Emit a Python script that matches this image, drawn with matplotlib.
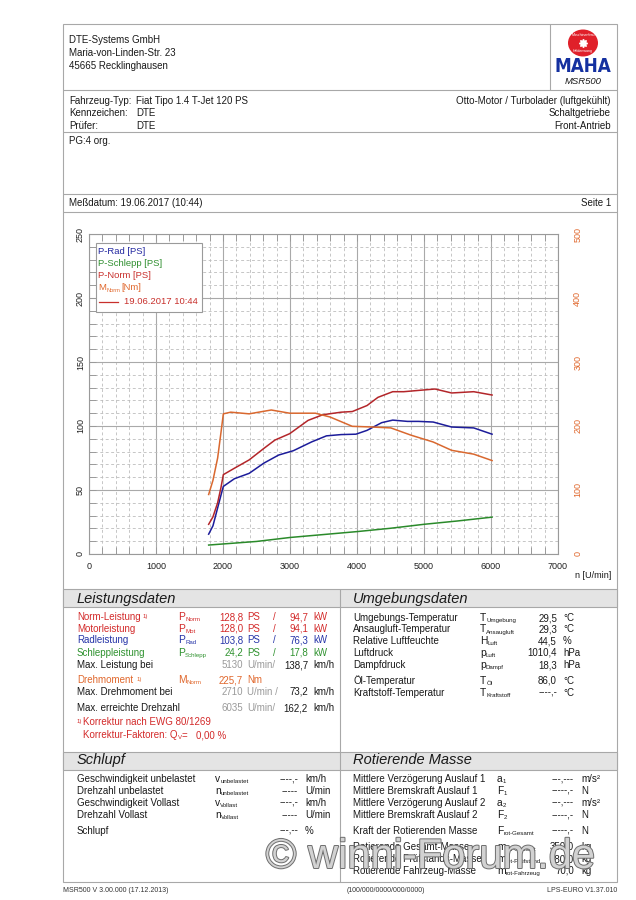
import matplotlib
matplotlib.use('Agg')
import matplotlib.pyplot as plt
import matplotlib.patches as mpatches
import matplotlib.patheffects as pe
from matplotlib.ticker import MultipleLocator

plt.rcParams['font.family'] = ['Liberation Sans', 'DejaVu Sans']

# ---------------- chart data ----------------
rpm_norm = [1786, 1850, 1920, 1970, 2005, 2170, 2390, 2610, 2775, 2995, 3270, 3490,
            3764, 3930, 4150, 4313, 4533, 4698, 4918, 5165, 5412, 5742, 6016]
p_norm = [23.2, 29.0, 40.0, 52.0, 62.0, 67.0, 73.5, 82.5, 89.0, 94.0, 104.4, 108.8,
          110.8, 111.3, 116.0, 122.4, 126.8, 126.8, 127.8, 128.9, 125.8, 126.8, 124.2]

rpm_rad = [1786, 1850, 1920, 1970, 2005, 2170, 2390, 2610, 2830, 3050, 3324, 3544,
           3764, 3984, 4150, 4368, 4533, 4753, 4918, 5137, 5412, 5742, 6016]
p_rad = [15.5, 22.0, 36.0, 46.0, 52.8, 58.8, 63.0, 71.0, 77.3, 80.7, 87.6, 92.3,
         93.3, 93.6, 96.6, 102.6, 104.6, 103.6, 103.6, 103.1, 99.2, 98.5, 93.6]

rpm_schlepp = [1786, 2500, 3000, 3500, 4000, 4500, 5000, 5500, 6016]
p_schlepp = [7.0, 9.8, 12.9, 15.2, 17.5, 20.1, 23.2, 25.8, 28.8]

rpm_torque = [1786, 1850, 1920, 1970, 2005, 2115, 2390, 2720, 2995, 3379, 3599,
              3929, 4203, 4505, 4808, 5137, 5412, 5742, 6016]
m_norm = [93, 115, 150, 190, 219, 221.6, 219, 225, 220, 220, 214,
          199.5, 198.5, 197, 185.6, 175, 162, 156, 146]

x_ticks = [0, 1000, 2000, 3000, 4000, 5000, 6000, 7000]
y_ticks_ps = [0, 50, 100, 150, 200, 250]
y_ticks_nm = [0, 100, 200, 300, 400, 500]

legend_labels = ["P-Rad [PS]", "P-Schlepp [PS]", "P-Norm [PS]"]
run_label = "19.06.2017 10:44"

# ---------------- page texts ----------------
address = ["DTE-Systems GmbH", "Maria-von-Linden-Str. 23", "45665 Recklinghausen"]
vehicle_left = [("Fahrzeug-Typ:", "Fiat Tipo 1.4 T-Jet 120 PS"),
                ("Kennzeichen:", "DTE"), ("Prüfer:", "DTE")]
vehicle_right = ["Otto-Motor / Turbolader (luftgekühlt)", "Schaltgetriebe", "Front-Antrieb"]

RED = '#d32a2a'
BLUE = '#2534a8'
GREEN = '#2f922f'
ORANGE = '#e0672c'
GRAY = '#9a9a9a'
BLACK = '#1a1a1a'

power_rows = [("Norm-Leistung", RED, "P", "Norm", "128,8", "94,7"),
              ("Motorleistung", RED, "P", "Mot", "128,0", "94,1"),
              ("Radleistung", BLUE, "P", "Rad", "103,8", "76,3"),
              ("Schleppleistung", GREEN, "P", "Schlepp", "24,2", "17,8")]
power_y = [617.3, 628.7, 640.3, 652.7]

env_rows = [("Umgebungs-Temperatur", "T", "Umgebung", "29,5", "°C"),
            ("Ansaugluft-Temperatur", "T", "Ansaugluft", "29,3", "°C"),
            ("Relative Luftfeuchte", "H", "Luft", "44,5", "%"),
            ("Luftdruck", "p", "Luft", "1010,4", "hPa"),
            ("Dampfdruck", "p", "Dampf", "18,3", "hPa"),
            ("Öl-Temperatur", "T", "Öl", "86,0", "°C"),
            ("Kraftstoff-Temperatur", "T", "Kraftstoff", "----,-", "°C")]
env_y = [618.3, 629.5, 641, 652.7, 665, 680.7, 692.7]

slip_rows = [("Geschwindigkeit unbelastet", "v", "unbelastet", "----,-", "km/h"),
             ("Drehzahl unbelastet", "n", "unbelastet", "-----", "U/min"),
             ("Geschwindigkeit Vollast", "v", "Vollast", "----,-", "km/h"),
             ("Drehzahl Vollast", "n", "Vollast", "-----", "U/min"),
             ("Schlupf", "", "", "---,--", "%")]
slip_y = [779.3, 790.7, 802.7, 815, 830.7]

rot_rows = [("Mittlere Verzögerung Auslauf 1", "a", "1", "---,---", "m/s²"),
            ("Mittlere Bremskraft Auslauf 1", "F", "1", "-----,-", "N"),
            ("Mittlere Verzögerung Auslauf 2", "a", "2", "---,---", "m/s²"),
            ("Mittlere Bremskraft Auslauf 2", "F", "2", "-----,-", "N"),
            ("Kraft der Rotierenden Masse", "F", "rot-Gesamt", "-----,-", "N"),
            ("Rotierende Gesamt-Masse", "m", "rot-Gesamt", "350,0", "kg"),
            ("Rotierende Prüfstands-Masse", "m", "rot-Prüfstand", "280,0", "kg"),
            ("Rotierende Fahrzeug-Masse", "m", "rot-Fahrzeug", "70,0", "kg")]
rot_y = [779.3, 790.7, 802.7, 815, 830.7, 846.7, 859.3, 870.7]

# ---------------- figure ----------------
W, H = 636, 900
fig = plt.figure(figsize=(6.36, 9.0), dpi=100)
fig.patch.set_facecolor('white')
pg = fig.add_axes([0, 0, 1, 1], zorder=0)
pg.set_xlim(0, W); pg.set_ylim(H, 0); pg.axis('off')
ov = fig.add_axes([0, 0, 1, 1], zorder=10)
ov.set_xlim(0, W); ov.set_ylim(H, 0); ov.axis('off'); ov.patch.set_alpha(0)
renderer = fig.canvas.get_renderer()

FS = 7.0
LINE = '#a8a8a8'


def T(x, y, s, size=FS, color=BLACK, ha='left', va='center', ax=None, **kw):
    ax = ax if ax is not None else pg
    return ax.text(x, y, s, fontsize=size, color=color, ha=ha, va=va, **kw)


def tw(t):
    return t.get_window_extent(renderer).width


def sym(x, y, main, sub, color, size=7.4, ax=None):
    t = T(x, y, main, size, color, ax=ax)
    if sub:
        T(x + tw(t) + 0.2, y + 2.6, sub, size * 0.6, color, ax=ax)


def hline(y, x0=63, x1=617):
    pg.plot([x0, x1], [y, y], color=LINE, lw=0.8, solid_capstyle='butt')


def vline(x, y0, y1):
    pg.plot([x, x], [y0, y1], color=LINE, lw=0.8, solid_capstyle='butt')


# frame
pg.add_patch(mpatches.Rectangle((63, 24), 554, 858, fc='none', ec=LINE, lw=0.8))
for y in [90, 132, 194, 212]:
    hline(y)
vline(550, 24, 90)
# section bands
for yb in [589, 752]:
    pg.add_patch(mpatches.Rectangle((63, yb), 554, 18, fc='#e4e4e4', ec=LINE, lw=0.8))
vline(340, 589, 882)

# header
for i, s in enumerate(address):
    T(69, 40 + 13 * i, s)
# MAHA logo
pg.add_patch(mpatches.Ellipse((583, 43), 30, 27, fc='#e0202a', ec='none'))
pg.plot([583], [43], marker=(8, 1, 0), ms=6, color='white')
pg.text(583, 35, "Maschinenbau", fontsize=2.6, color='white', ha='center', va='center')
pg.text(583, 51, "Haldenwang", fontsize=2.6, color='white', ha='center', va='center')
pg.text(583, 66, "MAHA", fontsize=13.5, color='#1430a0', ha='center', va='center',
        fontweight='heavy', family=['DejaVu Sans'], fontstretch='condensed')
T(583, 82, "MSR500", 6.8, ha='center', style='italic')

# vehicle
for i, (k, v) in enumerate(vehicle_left):
    T(69, 101 + 12.5 * i, k)
    T(136, 101 + 12.5 * i, v)
for i, s in enumerate(vehicle_right):
    T(611, 101 + 12.5 * i, s, ha='right')
T(69, 141, "PG:4 org.")
T(69, 203.5, "Meßdatum: 19.06.2017 (10:44)")
T(611, 203.5, "Seite 1", ha='right')

# ---------------- chart ----------------
ax = fig.add_axes([89 / W, 1 - 554 / H, 469 / W, 320 / H], zorder=5)
ax.set_facecolor('none')
ax.set_xlim(0, 7000)
ax.set_ylim(0, 250)
ax.xaxis.set_major_locator(MultipleLocator(1000))
ax.xaxis.set_minor_locator(MultipleLocator(200))
ax.yaxis.set_major_locator(MultipleLocator(50))
ax.yaxis.set_minor_locator(MultipleLocator(10))
ax.set_xticks(x_ticks)
ax.set_yticks(y_ticks_ps)
ax.grid(which='major', color='#a9a9a9', lw=0.8, ls='-')
ax.grid(which='minor', color='#bdbdbd', lw=0.6, ls=(0, (3.5, 3)))
ax.set_axisbelow(True)
for sp in ax.spines.values():
    sp.set_color('#9a9a9a'); sp.set_linewidth(0.8)
ax.tick_params(which='both', direction='in', top=True, right=True, length=5,
               color='#9a9a9a', width=0.7, labelsize=6.5, labelcolor='#222')
ax.tick_params(axis='x', pad=6)
ax.tick_params(axis='y', labelrotation=90, pad=3)
for lab in ax.get_yticklabels():
    lab.set_va('center')

ax.plot(rpm_schlepp, p_schlepp, color='#2a8a2a', lw=1.1, zorder=3)
ax.plot(rpm_rad, p_rad, color='#1c1c9a', lw=1.1, zorder=3)
ax.plot(rpm_norm, p_norm, color='#b3262a', lw=1.1, zorder=3)

ax2 = ax.twinx()
ax2.set_ylim(0, 500)
ax2.set_yticks(y_ticks_nm)
ax2.set_facecolor('none')
for sp in ax2.spines.values():
    sp.set_visible(False)
ax2.tick_params(axis='y', length=0, labelsize=6.5, labelcolor=ORANGE,
                labelrotation=90, pad=11)
for lab in ax2.get_yticklabels():
    lab.set_va('center')
ax2.plot(rpm_torque, m_norm, color='#d9682f', lw=1.1, zorder=3)

T(593, 575, "n [U/min]", 6.5, ha='center')

# legend (overlay)
ov.add_patch(mpatches.Rectangle((96, 243), 106, 69, fc='white', ec='#9a9a9a', lw=0.8))
leg_cols = ['#2328a0', '#2f8f2f', '#c8302c']
for i, (s, c) in enumerate(zip(legend_labels, leg_cols)):
    T(98.5, 252 + 12 * i, s, 6.8, c, ax=ov)
sym(98.5, 288, "M", "Norm", ORANGE, size=6.8, ax=ov)
T(121, 288, "[Nm]", 6.8, ORANGE, ax=ov)
ov.plot([99, 118], [302, 302], color='#c8302c', lw=0.9)
T(124, 302, run_label, 6.8, '#c8302c', ax=ov)

# ---------------- Leistungsdaten ----------------
T(77, 599, "Leistungsdaten", 10.5, style='italic')
T(353, 599, "Umgebungsdaten", 10.5, style='italic')
for (lab, col, m, s, ps, kw), y in zip(power_rows, power_y):
    t = T(77, y, lab, FS, col)
    if lab == "Norm-Leistung":
        T(77 + tw(t) + 2, y - 1, "1)", 4.2, col)
    sym(178, y, m, s, col)
    T(243, y, ps, FS, col, ha='right')
    T(247, y, "PS", FS, col)
    T(273, y, "/", FS, col)
    T(308, y, kw, FS, col, ha='right')
    T(313, y, "kW", FS, col)

T(77, 665, "Max. Leistung bei")
T(243, 665, "5130", FS, GRAY, ha='right')
T(247, 665, "U/min/", FS, GRAY)
T(308, 665, "138,7", ha='right')
T(313, 665, "km/h")

t = T(77, 680.3, "Drehmoment", FS, ORANGE)
T(77 + tw(t) + 3, 679.3, "1)", 4.2, ORANGE)
sym(178, 680.3, "M", "Norm", ORANGE)
T(243, 680.3, "225,7", FS, ORANGE, ha='right')
T(247, 680.3, "Nm", FS, ORANGE)

T(77, 691.7, "Max. Drehmoment bei")
T(243, 691.7, "2710", FS, GRAY, ha='right')
T(247, 691.7, "U/min /", FS, GRAY)
T(308, 691.7, "73,2", ha='right')
T(313, 691.7, "km/h")

T(77, 708.3, "Max. erreichte Drehzahl")
T(243, 708.3, "6035", FS, GRAY, ha='right')
T(247, 708.3, "U/min/", FS, GRAY)
T(308, 708.3, "162,2", ha='right')
T(313, 708.3, "km/h")

T(77, 721.3, "1)", 4.2, RED)
T(83, 722.3, "Korrektur nach EWG 80/1269", FS, RED)
t = T(83, 735, "Korrektur-Faktoren: Q", FS, RED)
T(83 + tw(t) + 0.2, 737.6, "V", 4.4, RED)
T(83 + tw(t) + 5, 735, "=   0,00 %", FS, RED)

# Umgebungsdaten
for (lab, m, s, v, u), y in zip(env_rows, env_y):
    T(353, y, lab)
    sym(480, y, m, s, BLACK)
    T(557, y, v, ha='right')
    T(563, y, u)

# Schlupf
T(77, 760, "Schlupf", 10.5, style='italic')
T(353, 760, "Rotierende Masse", 10.5, style='italic')
for (lab, m, s, v, u), y in zip(slip_rows, slip_y):
    T(77, y, lab)
    if m:
        sym(215, y, m, s, BLACK)
    T(298, y, v, ha='right')
    T(305, y, u)

for (lab, m, s, v, u), y in zip(rot_rows, rot_y):
    T(353, y, lab)
    sym(497, y, m, s, BLACK)
    T(574, y, v, ha='right')
    T(581, y, u)

# footer
T(63, 891, "MSR500 V 3.00.000 (17.12.2013)", 5.0, '#333')
T(347, 891, "(100/000/0000/000/0000)", 5.0, '#333')
T(617, 891, "LPS-EURO V1.37.010", 5.0, '#333', ha='right')

# watermark
T(430, 857, "© winni-Forum.de", 30, '#d2d2d2', ha='center', ax=ov,
  path_effects=[pe.withStroke(linewidth=1.4, foreground='#6e6e6e')])

fig.savefig('out.png', dpi=100, facecolor='white')
